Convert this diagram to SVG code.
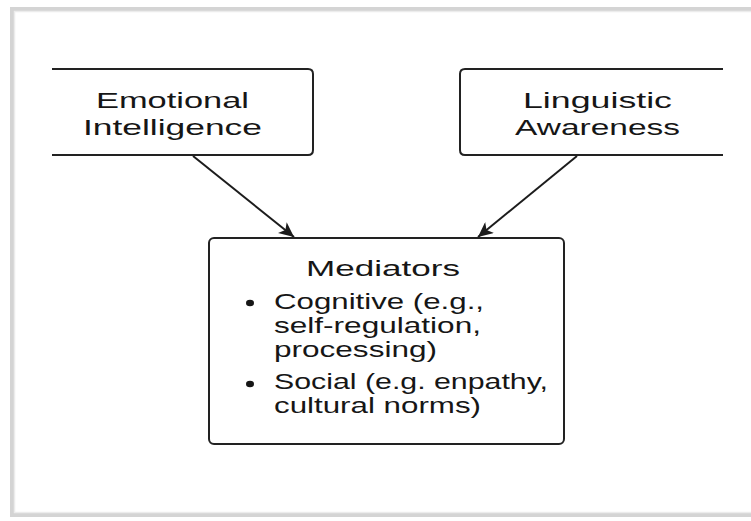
<svg xmlns="http://www.w3.org/2000/svg" width="751" height="521" viewBox="0 0 751 521">
  <defs>
    <style>
      .box { fill: none; stroke: #222; stroke-width: 2; }
      .txt { font-family: "Liberation Sans", Arial, sans-serif; font-size: 22.5px; fill: #161616; }
      .conn { stroke: #1c1c1c; stroke-width: 2; fill: none; }
    </style>
    <marker id="arrow" markerUnits="userSpaceOnUse" markerWidth="16" markerHeight="14" refX="15" refY="7" orient="auto">
      <path d="M0,0 L15,7 L0,14 L4,7 Z" fill="#1c1c1c"/>
    </marker>
  </defs>
  <rect x="0" y="0" width="751" height="521" fill="#ffffff"/>
  <g id="frame">
    <rect x="12" y="9" width="760" height="506" fill="#ffffff" stroke="#d4d4d4" stroke-width="4"/>
    <rect x="14.5" y="11.5" width="760" height="501" fill="none" stroke="#ececec" stroke-width="1.5"/>
  </g>
  <g id="connectors">
    <line class="conn" x1="193" y1="156" x2="294" y2="237" marker-end="url(#arrow)"/>
    <line class="conn" x1="577" y1="156" x2="478" y2="237" marker-end="url(#arrow)"/>
  </g>
  <g id="emotional-intelligence">
    <path class="box" d="M52,69 H308 Q313,69 313,74 V150 Q313,155 308,155 H52"/>
    <text class="txt" x="96" y="108" textLength="153" lengthAdjust="spacingAndGlyphs">Emotional</text>
    <text class="txt" x="83" y="135" textLength="179" lengthAdjust="spacingAndGlyphs">Intelligence</text>
  </g>
  <g id="linguistic-awareness">
    <path class="box" d="M723,69 H465 Q460,69 460,74 V150 Q460,155 465,155 H723"/>
    <text class="txt" x="523" y="108" textLength="149" lengthAdjust="spacingAndGlyphs">Linguistic</text>
    <text class="txt" x="515" y="135" textLength="165" lengthAdjust="spacingAndGlyphs">Awareness</text>
  </g>
  <g id="mediators">
    <rect class="box" x="209" y="238" width="355" height="206" rx="5" ry="5"/>
    <text class="txt" x="306" y="276" textLength="154" lengthAdjust="spacingAndGlyphs">Mediators</text>
    <ellipse cx="250" cy="303" rx="4" ry="3.3" fill="#161616"/>
    <text class="txt" x="274" y="309" textLength="210" lengthAdjust="spacingAndGlyphs">Cognitive (e.g.,</text>
    <text class="txt" x="274" y="333" textLength="207" lengthAdjust="spacingAndGlyphs">self-regulation,</text>
    <text class="txt" x="274" y="357" textLength="163" lengthAdjust="spacingAndGlyphs">processing)</text>
    <ellipse cx="250" cy="384" rx="4" ry="3.3" fill="#161616"/>
    <text class="txt" x="274" y="389" textLength="274" lengthAdjust="spacingAndGlyphs">Social (e.g. enpathy,</text>
    <text class="txt" x="274" y="413" textLength="207" lengthAdjust="spacingAndGlyphs">cultural norms)</text>
  </g>
</svg>
